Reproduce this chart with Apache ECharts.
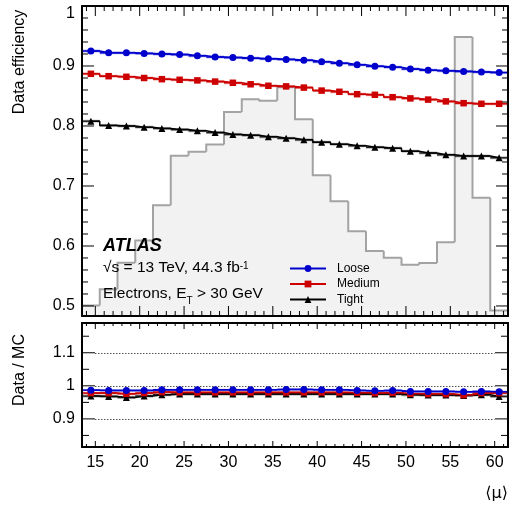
<!DOCTYPE html>
<html><head><meta charset="utf-8">
<script src="https://cdn.jsdelivr.net/npm/echarts@6/dist/echarts.min.js"></script>
<style>html,body{margin:0;padding:0;background:#fff}#c{width:509px;height:506px}</style>
</head><body><div id="c"></div>
<script>
// ---------------- data ----------------
const mu = [14.5,16.5,18.5,20.5,22.5,24.5,26.5,28.5,30.5,32.5,34.5,36.5,38.5,40.5,42.5,44.5,46.5,48.5,50.5,52.5,54.5,56.5,58.5,60.5];
const binHalfWidth = 1;
const effLoose  = [0.925,0.922,0.922,0.921,0.920,0.919,0.917,0.915,0.914,0.913,0.912,0.911,0.9095,0.907,0.9045,0.902,0.8995,0.898,0.895,0.893,0.892,0.891,0.890,0.889];
const effMedium = [0.887,0.883,0.882,0.880,0.878,0.877,0.876,0.874,0.872,0.8695,0.867,0.866,0.864,0.859,0.857,0.853,0.852,0.848,0.846,0.844,0.841,0.838,0.837,0.837];
const effTight  = [0.808,0.801,0.800,0.798,0.796,0.794,0.792,0.789,0.786,0.7845,0.782,0.7795,0.777,0.773,0.7695,0.767,0.7645,0.763,0.758,0.755,0.752,0.750,0.750,0.747];
const ratioLoose  = [0.987,0.986,0.986,0.986,0.988,0.988,0.988,0.988,0.988,0.988,0.988,0.989,0.989,0.988,0.988,0.986,0.985,0.986,0.983,0.983,0.983,0.982,0.983,0.982];
const ratioMedium = [0.978,0.978,0.976,0.978,0.981,0.980,0.980,0.980,0.980,0.980,0.980,0.980,0.980,0.980,0.980,0.979,0.978,0.979,0.976,0.975,0.975,0.972,0.978,0.978];
const ratioTight  = [0.969,0.968,0.965,0.969,0.973,0.975,0.975,0.975,0.975,0.975,0.975,0.975,0.975,0.975,0.975,0.975,0.975,0.975,0.973,0.972,0.972,0.971,0.973,0.968];
// pile-up distribution (arbitrary units, peak = 1)
const pileup = [0.038,0.096,0.191,0.271,0.397,0.574,0.589,0.615,0.731,0.777,0.771,0.820,0.705,0.504,0.411,0.304,0.233,0.209,0.184,0.190,0.264,1.000,0.424,0.020];
const xTicks = [15,20,25,30,35,40,45,50,55,60];
const xMinorTicks = [14,16,17,18,19,21,22,23,24,26,27,28,29,31,32,33,34,36,37,38,39,41,42,43,44,46,47,48,49,51,52,53,54,56,57,58,59,61];
const effTicks = [0.5,0.6,0.7,0.8,0.9,1];
const effMinorTicks = [0.52,0.54,0.56,0.58,0.62,0.64,0.66,0.68,0.72,0.74,0.76,0.78,0.82,0.84,0.86,0.88,0.92,0.94,0.96,0.98];
const ratioTicks = [0.9,1,1.1];
const ratioMinorTicks = [0.85,0.95,1.05,1.15];
const ratioGuides = [0.9,1.0,1.1];
const guideXRange = [15,60];
const legendNames = ['Loose','Medium','Tight'];

// ---------------- style ----------------
const FONT = 'Liberation Sans, Arial, Helvetica, sans-serif';
const C_LOOSE = '#0000cc', C_MED = '#cc0000', C_TIGHT = '#000000';
const xRange = [13.5, 61.5];
const effRange = [0.4833, 1.0];
const ratioRange = [0.815, 1.19];
const pileupAxisMax = 1.111;

const frameLine = () => ({show:true, onZero:false, lineStyle:{color:'#000', width:2}});
const tickLabel = (vals, margin, extra) => Object.assign({show:true, customValues:vals, margin:margin, color:'#000', fontSize:16, fontFamily:FONT}, extra || {});
function ax(grid, pos, range, opts) {
  return Object.assign({
    type:'value', gridIndex:grid, position:pos, min:range[0], max:range[1], z:10,
    axisLine:frameLine(), axisTick:{show:false}, axisLabel:{show:false}, splitLine:{show:false}
  }, opts || {});
}

const xAxis = [
  ax(0,'bottom',xRange),
  ax(0,'top',xRange),
  ax(1,'bottom',xRange,{axisLabel:tickLabel(xTicks,8)}),
  ax(1,'top',xRange)
];
const yAxis = [
  ax(0,'left',effRange,{axisLabel:tickLabel(effTicks,7,{verticalAlignMaxLabel:'top'})}),
  ax(0,'right',effRange),
  {type:'value', gridIndex:0, position:'left', min:0, max:pileupAxisMax, show:false},
  ax(1,'left',ratioRange,{axisLabel:tickLabel(ratioTicks,7)}),
  ax(1,'right',ratioRange)
];

function pts(vals) { return mu.map((x,i)=>[x, vals[i]]); }

// tick marks drawn inward from the frame, placed through the axis scales
function tickSeries(xi, yi, dim, vals, edgeVal, len, dir) {
  return {
    type:'custom', xAxisIndex:xi, yAxisIndex:yi, clip:false, silent:true, z:20,
    data: vals.map(v => dim === 'x' ? [v, edgeVal] : [edgeVal, v]),
    renderItem(params, api) {
      const p = api.coord([api.value(0), api.value(1)]);
      const shape = dim === 'x'
        ? {x1:p[0], y1:p[1], x2:p[0], y2:p[1] - dir*len}
        : {x1:p[0], y1:p[1], x2:p[0] + dir*len, y2:p[1]};
      return {type:'line', shape:shape, style:{stroke:'#000', lineWidth:1}};
    }
  };
}
function panelTicks(xi, yi, yRange, yMajor, yMinor, xLen, yLen) {
  return [
    tickSeries(xi, yi, 'x', xTicks, yRange[0], xLen[0], 1),
    tickSeries(xi, yi, 'x', xMinorTicks, yRange[0], xLen[1], 1),
    tickSeries(xi, yi, 'x', xTicks, yRange[1], xLen[0], -1),
    tickSeries(xi, yi, 'x', xMinorTicks, yRange[1], xLen[1], -1),
    tickSeries(xi, yi, 'y', yMajor, xRange[0], yLen[0], 1),
    tickSeries(xi, yi, 'y', yMinor, xRange[0], yLen[1], 1),
    tickSeries(xi, yi, 'y', yMajor, xRange[1], yLen[0], -1),
    tickSeries(xi, yi, 'y', yMinor, xRange[1], yLen[1], -1)
  ];
}

function bandSeries(xi, yi, vals, halfErr, fill, stroke, z) {
  return {
    type:'custom', xAxisIndex:xi, yAxisIndex:yi, clip:true, silent:true, z:z,
    data: pts(vals),
    renderItem(params, api) {
      const x = api.value(0), y = api.value(1);
      const p1 = api.coord([x-binHalfWidth, y+halfErr]);
      const p2 = api.coord([x+binHalfWidth, y-halfErr]);
      const l = api.coord([x-binHalfWidth, y]), r = api.coord([x+binHalfWidth, y]);
      return {type:'group', children:[
        {type:'rect', shape:{x:p1[0], y:p1[1], width:p2[0]-p1[0], height:p2[1]-p1[1]}, style:{fill:fill}},
        {type:'line', shape:{x1:l[0], y1:l[1], x2:r[0], y2:r[1]}, style:{stroke:stroke, lineWidth:1.5}}
      ]};
    }
  };
}
function lineSeries(name, xi, yi, vals, color, symbol, size, z) {
  return {
    type:'line', name:name, xAxisIndex:xi, yAxisIndex:yi, data:pts(vals), step:'middle',
    symbol:symbol, symbolSize:size, showSymbol:true, z:z,
    lineStyle:{color:color, width:1.5}, itemStyle:{color:color}, emphasis:{disabled:true}
  };
}

const histSeries = {
  type:'custom', xAxisIndex:0, yAxisIndex:2, clip:true, silent:true, z:1,
  data: pts(pileup),
  renderItem(params, api) {
    const i = params.dataIndex;
    const x = api.value(0), v = api.value(1);
    const prev = i > 0 ? pileup[i-1] : 0;
    const bl = api.coord([x-binHalfWidth, 0]);
    const tr = api.coord([x+binHalfWidth, v]);
    const pp = api.coord([x-binHalfWidth, prev]);
    const poly = [pp, [bl[0], tr[1]], tr];
    if (i === pileup.length-1) poly.push(api.coord([x+binHalfWidth, 0]));
    return {type:'group', children:[
      {type:'rect', shape:{x:bl[0], y:tr[1], width:tr[0]-bl[0]+0.5, height:bl[1]-tr[1]}, style:{fill:'#f2f2f2'}},
      {type:'polyline', shape:{points:poly}, style:{stroke:'#a3a3a3', lineWidth:2, fill:null}}
    ]};
  }
};

const guideSeries = {
  type:'line', xAxisIndex:2, yAxisIndex:3, data:[], silent:true,
  markLine:{
    silent:true, symbol:'none', label:{show:false}, animation:false,
    lineStyle:{color:'#000', type:[1,2], width:1},
    data: ratioGuides.map(g => [{coord:[guideXRange[0], g]}, {coord:[guideXRange[1], g]}])
  }
};

const series = [
  histSeries,
  guideSeries,
  bandSeries(0,0,effTight,0.0025,'rgba(0,0,0,0.25)','#222',3),
  bandSeries(0,0,effMedium,0.0025,'rgba(220,0,0,0.3)','#cc0000',3),
  bandSeries(0,0,effLoose,0.0025,'rgba(0,0,220,0.3)','#0000cc',3),
  lineSeries('Tight',0,0,effTight,C_TIGHT,'triangle',7,5),
  lineSeries('Medium',0,0,effMedium,C_MED,'rect',6.5,5),
  lineSeries('Loose',0,0,effLoose,C_LOOSE,'circle',7,5),
  bandSeries(2,3,ratioTight,0.005,'rgba(0,0,0,0.25)','#222',3),
  bandSeries(2,3,ratioMedium,0.004,'rgba(220,0,0,0.3)','#cc0000',3),
  bandSeries(2,3,ratioLoose,0.003,'rgba(0,0,220,0.3)','#0000cc',3),
  lineSeries('Tight',2,3,ratioTight,C_TIGHT,'triangle',7,5),
  lineSeries('Medium',2,3,ratioMedium,C_MED,'rect',6.5,6),
  lineSeries('Loose',2,3,ratioLoose,C_LOOSE,'circle',7,7)
].concat(
  panelTicks(0, 0, effRange, effTicks, effMinorTicks, [10,5], [12,6]),
  panelTicks(2, 3, ratioRange, ratioTicks, ratioMinorTicks, [6,3], [13,7])
);

const T = (o) => Object.assign({z:100}, o);
const option = {
  animation:false,
  backgroundColor:'#fff',
  grid:[
    {left:82, top:6, width:426, height:310},
    {left:82, top:323, width:426, height:124}
  ],
  xAxis, yAxis, series,
  legend:{
    data:legendNames, orient:'vertical', left:284, top:257.5, z:100,
    itemWidth:36, itemHeight:8.5, itemGap:3.5, selectedMode:false,
    textStyle:{fontSize:12, fontFamily:FONT, color:'#000', lineHeight:12, padding:[0,0,0,6]}
  },
  graphic:[
    T({type:'text', x:20, y:62, rotation:Math.PI/2,
     style:{text:'Data efficiency', font:'16px '+FONT, fill:'#000', textAlign:'center', textVerticalAlign:'middle', align:'center', verticalAlign:'middle'}}),
    T({type:'text', x:20, y:370, rotation:Math.PI/2,
     style:{text:'Data / MC', font:'16px '+FONT, fill:'#000', textAlign:'center', textVerticalAlign:'middle', align:'center', verticalAlign:'middle'}}),
    T({type:'text', x:508, y:494,
     style:{text:'⟨μ⟩', font:'16px DejaVu Sans, '+FONT, fill:'#000', textAlign:'right', textVerticalAlign:'middle', align:'right', verticalAlign:'middle'}}),
    T({type:'text', x:103, y:246,
     style:{text:'ATLAS', font:'italic bold 18px '+FONT, fill:'#000', textAlign:'left', textVerticalAlign:'middle', align:'left', verticalAlign:'middle'}}),
    T({type:'text', x:103, y:268,
     style:{text:'{m|√s = 13 TeV, 44.3 fb}{s|-1}', textAlign:'left', textVerticalAlign:'middle', align:'left', verticalAlign:'middle',
       rich:{ m:{fontSize:15.5, fontFamily:FONT, color:'#000', lineHeight:24},
              s:{fontSize:10, fontFamily:FONT, color:'#000', lineHeight:10, verticalAlign:'top', padding:[5,0,0,0]} }}}),
    T({type:'text', x:103, y:294,
     style:{text:'{m|Electrons, E}{b|T}{m| > 30 GeV}', textAlign:'left', textVerticalAlign:'middle', align:'left', verticalAlign:'middle',
       rich:{ m:{fontSize:15.5, fontFamily:FONT, color:'#000', lineHeight:24},
              b:{fontSize:10, fontFamily:FONT, color:'#000', lineHeight:10, verticalAlign:'bottom'} }}})
  ]
};
const chart = echarts.init(document.getElementById('c'), null, {renderer:'canvas'});
chart.setOption(option);
</script>
</body></html>
